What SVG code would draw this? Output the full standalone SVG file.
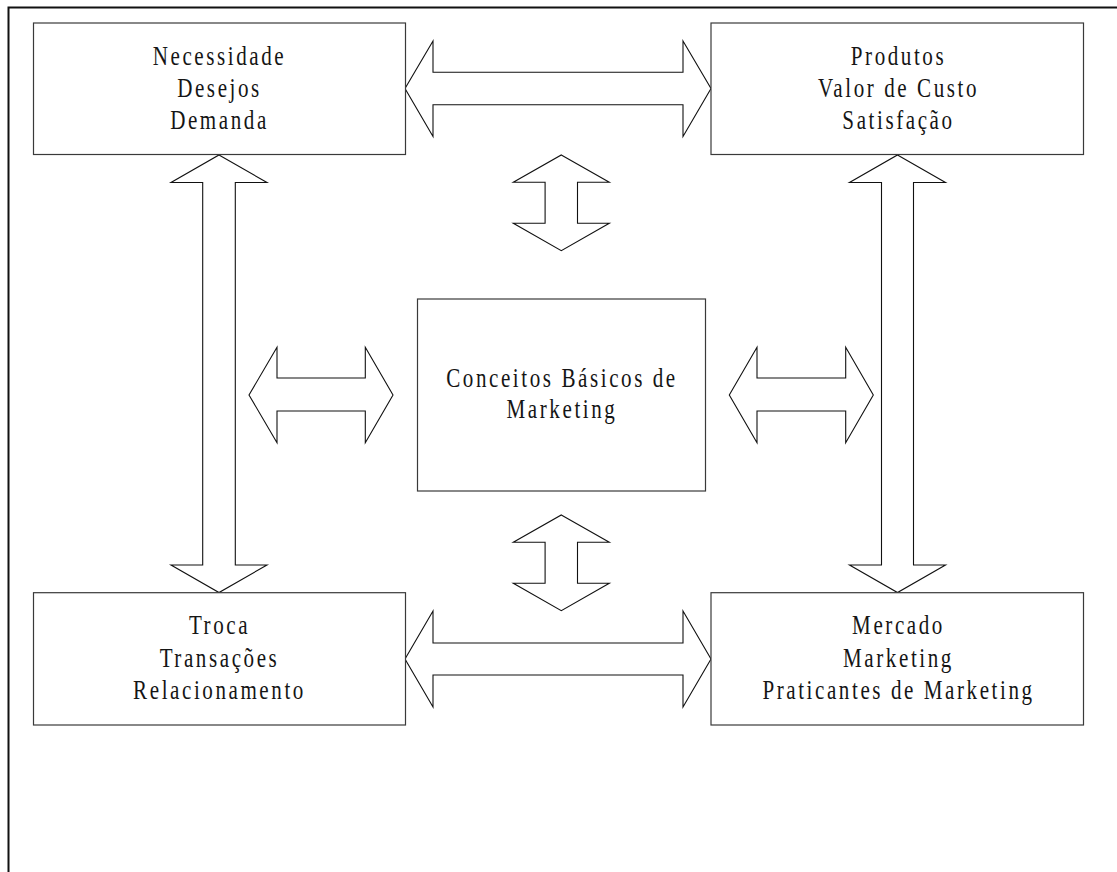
<svg xmlns="http://www.w3.org/2000/svg" width="1117" height="872" viewBox="0 0 1117 872">
  <style>
    .box { fill: #ffffff; stroke: #3a3a3a; stroke-width: 1.2; }
    .arrow { fill: #ffffff; stroke: #111111; stroke-width: 1.1; stroke-linejoin: miter; }
    .frame { fill: none; stroke: #111111; stroke-width: 2; }
    .lbl { font-family: "Liberation Serif", "Times New Roman", serif; font-size: 27px; letter-spacing: 3.3px; fill: #151515; text-anchor: middle; }
  </style>
  <rect width="1117" height="872" fill="#ffffff"/>
  <!-- page frame: top and left edges only -->
  <polyline class="frame" points="8.5,872 8.5,7.5 1117,7.5"/>

  <g id="connectors">
    <!-- top: Necessidade <-> Produtos -->
    <polygon class="arrow" points="405,88.5 433,41 433,72.3 683,72.3 683,41 711,88.5 683,136.5 683,104.7 433,104.7 433,136.5"/>
    <!-- bottom: Troca <-> Mercado -->
    <polygon class="arrow" points="405,659 433,611 433,643 683,643 683,611 711,659 683,707 683,675 433,675 433,707"/>
    <!-- left vertical: Necessidade <-> Troca -->
    <polygon class="arrow" points="219,155 267,182.5 235.3,182.5 235.3,565 267,565 219,592.5 171,565 202.7,565 202.7,182.5 171,182.5"/>
    <!-- right vertical: Produtos <-> Mercado -->
    <polygon class="arrow" points="897.5,155 945.5,182.5 913.5,182.5 913.5,565 945.5,565 897.5,592.5 849.5,565 881.5,565 881.5,182.5 849.5,182.5"/>
    <!-- short vertical above centre -->
    <polygon class="arrow" points="561.3,155 609.3,182.3 577.5,182.3 577.5,223.3 609.3,223.3 561.3,250.7 513.3,223.3 545.1,223.3 545.1,182.3 513.3,182.3"/>
    <!-- short vertical below centre -->
    <polygon class="arrow" points="561.3,515 609.3,542.3 577.5,542.3 577.5,583.3 609.3,583.3 561.3,610.7 513.3,583.3 545.1,583.3 545.1,542.3 513.3,542.3"/>
    <!-- short horizontal left of centre -->
    <polygon class="arrow" points="249,395 277,347.3 277,378 365.3,378 365.3,347.3 393,395 365.3,442.7 365.3,411 277,411 277,442.7"/>
    <!-- short horizontal right of centre -->
    <polygon class="arrow" points="729.3,395 757,347.3 757,378 845.7,378 845.7,347.3 873.3,395 845.7,442.7 845.7,411 757,411 757,442.7"/>
  </g>

  <g id="node-necessidade">
    <rect class="box" x="33.5" y="23" width="372" height="131.5"/>
    <g transform="translate(219.5,0) scale(0.78,1)">
      <text class="lbl" x="0" y="65">Necessidade</text>
      <text class="lbl" x="0" y="97">Desejos</text>
      <text class="lbl" x="0" y="129">Demanda</text>
    </g>
  </g>

  <g id="node-produtos">
    <rect class="box" x="711" y="23" width="372.5" height="131.5"/>
    <g transform="translate(898.5,0) scale(0.78,1)">
      <text class="lbl" x="0" y="65">Produtos</text>
      <text class="lbl" x="0" y="97">Valor de Custo</text>
      <text class="lbl" x="0" y="129">Satisfação</text>
    </g>
  </g>

  <g id="node-conceitos">
    <rect class="box" x="417.5" y="299" width="288" height="192"/>
    <g transform="translate(562,0) scale(0.78,1)">
      <text class="lbl" x="0" y="387">Conceitos Básicos de</text>
      <text class="lbl" x="0" y="418.5">Marketing</text>
    </g>
  </g>

  <g id="node-troca">
    <rect class="box" x="33.5" y="592.7" width="372" height="132.3"/>
    <g transform="translate(219.5,0) scale(0.78,1)">
      <text class="lbl" x="0" y="634.5">Troca</text>
      <text class="lbl" x="0" y="667">Transações</text>
      <text class="lbl" x="0" y="699">Relacionamento</text>
    </g>
  </g>

  <g id="node-mercado">
    <rect class="box" x="711" y="592.7" width="372.5" height="132.3"/>
    <g transform="translate(898.5,0) scale(0.78,1)">
      <text class="lbl" x="0" y="634.5">Mercado</text>
      <text class="lbl" x="0" y="667">Marketing</text>
      <text class="lbl" x="0" y="699">Praticantes de Marketing</text>
    </g>
  </g>
</svg>
